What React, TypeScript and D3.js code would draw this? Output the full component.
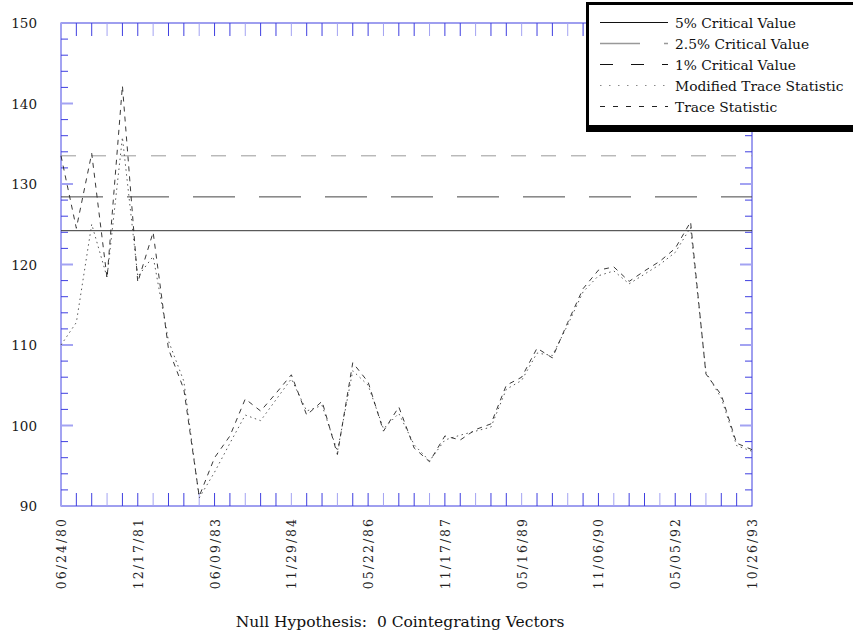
import { useEffect, useRef } from 'react';
import * as d3 from 'd3';

// tick labels on the x axis, one every 5 observations
const dateLabels = ['06/24/80', '12/17/81', '06/09/83', '11/29/84', '05/22/86', '11/17/87', '05/16/89', '11/06/90', '05/05/92', '10/26/93'];

const traceStat = [
  133.5, 124.5, 133.8, 118.3, 142.2, 117.8, 124.0, 109.5, 104.5, 91.2,
  96.0, 98.7, 103.3, 101.8, 104.0, 106.3, 101.3, 103.0, 96.4, 107.8,
  105.4, 99.3, 102.3, 97.2, 95.5, 98.7, 98.2, 99.5, 100.2, 105.0,
  106.0, 109.6, 108.4, 112.8, 117.0, 119.3, 119.7, 117.9, 119.2, 120.4,
  122.0, 125.3, 106.4, 103.8, 97.8, 97.0,
];

const modTraceStat = [
  110.0, 112.8, 125.0, 118.4, 135.8, 118.5, 121.0, 110.5, 105.5, 91.0,
  94.2, 97.8, 101.3, 100.6, 103.2, 105.8, 101.8, 102.5, 96.8, 106.8,
  105.0, 99.6, 101.5, 97.6, 95.6, 98.2, 98.8, 99.3, 99.8, 104.5,
  105.6, 109.0, 108.7, 112.5, 116.6, 118.6, 119.2, 117.6, 118.8, 120.0,
  121.5, 124.6, 106.6, 103.4, 97.5, 96.8,
];

const critNames = ['5% Critical Value', '2.5% Critical Value', '1% Critical Value'];
const critValues = [124.2, 128.4, 133.5];

const yTicks = [90, 100, 110, 120, 130, 140, 150];

// drawing styles, keyed by legend entry
const styles: Record<string, { stroke: string; dash: string; width: number }> = {
  '5% Critical Value': { stroke: '#333', dash: '', width: 1 },
  '2.5% Critical Value': { stroke: '#444', dash: '42,24', width: 1 },
  '1% Critical Value': { stroke: '#9a9a9a', dash: '15,15', width: 1 },
  'Modified Trace Statistic': { stroke: '#444', dash: '1.5,3.5', width: 0.9 },
  'Trace Statistic': { stroke: '#222', dash: '5,5', width: 0.9 },
};
const legendStyles: Record<string, { stroke: string; dash: string }> = {
  '5% Critical Value': { stroke: '#111', dash: '' },
  '2.5% Critical Value': { stroke: '#999', dash: '40,24' },
  '1% Critical Value': { stroke: '#111', dash: '13,18' },
  'Modified Trace Statistic': { stroke: '#888', dash: '1.5,7.5' },
  'Trace Statistic': { stroke: '#222', dash: '5,8' },
};

const FONT = '"DejaVu Serif", serif';
const BLUE = '#3f3fe0';
const LIGHT = '#a3a3f2';

function App() {
  const svgRef = useRef<SVGSVGElement>(null);

  useEffect(() => {
    const svg = d3.select(svgRef.current);
    svg.selectAll('*').remove();

    const left = 61, right = 752, top = 23, bottom = 506;
    const x = d3.scaleLinear().domain([0, traceStat.length - 1]).range([left, right]);
    const y = d3.scaleLinear().domain([90, 150]).range([bottom, top]);

    // frame
    const frame = svg.append('g');
    frame.append('rect')
      .attr('x', left).attr('y', top)
      .attr('width', right - left).attr('height', bottom - top)
      .attr('fill', 'none').attr('stroke', BLUE).attr('stroke-width', 1);
    frame.append('line')
      .attr('x1', left).attr('x2', left).attr('y1', top).attr('y2', bottom)
      .attr('stroke', LIGHT).attr('stroke-width', 2);

    // x ticks on top and bottom, one per observation
    const xt = d3.range(1, traceStat.length - 1);
    frame.selectAll('line.xtb').data(xt).join('line')
      .attr('class', 'xtb')
      .attr('x1', d => x(d)).attr('x2', d => x(d))
      .attr('y1', bottom).attr('y2', bottom - 13)
      .attr('stroke', d => (d % 3 === 0 ? LIGHT : BLUE)).attr('stroke-width', 1);
    frame.selectAll('line.xtt').data(xt).join('line')
      .attr('class', 'xtt')
      .attr('x1', d => x(d)).attr('x2', d => x(d))
      .attr('y1', top).attr('y2', top + 13)
      .attr('stroke', d => (d % 3 === 0 ? LIGHT : BLUE)).attr('stroke-width', 1);

    // y ticks left and right, minor every 2
    const yt = d3.range(92, 150, 2);
    const tlen = (v: number) => (v % 10 === 0 ? 12 : 7);
    frame.selectAll('line.ytl').data(yt).join('line')
      .attr('class', 'ytl')
      .attr('x1', left).attr('x2', d => left + tlen(d))
      .attr('y1', d => y(d)).attr('y2', d => y(d))
      .attr('stroke', d => (d % 10 === 0 ? LIGHT : BLUE))
      .attr('stroke-width', d => (d % 10 === 0 ? 2 : 1));
    frame.selectAll('line.ytr').data(yt).join('line')
      .attr('class', 'ytr')
      .attr('x1', right).attr('x2', d => right - tlen(d))
      .attr('y1', d => y(d)).attr('y2', d => y(d))
      .attr('stroke', d => (d % 10 === 0 ? LIGHT : BLUE))
      .attr('stroke-width', d => (d % 10 === 0 ? 2 : 1));

    // y labels
    svg.selectAll('text.ylab').data(yTicks).join('text')
      .attr('class', 'ylab')
      .attr('x', 37).attr('y', d => y(d) + 5)
      .attr('text-anchor', 'end')
      .attr('font-family', FONT).attr('font-size', 13.5).attr('fill', '#1a1a1a')
      .text(d => d);

    // x labels, rotated
    svg.selectAll('text.xlab').data(dateLabels).join('text')
      .attr('class', 'xlab')
      .attr('transform', (d, i) => `translate(${x(i * 5) + 5},${517}) rotate(-90)`)
      .attr('text-anchor', 'end')
      .attr('font-family', FONT).attr('font-size', 12.5).attr('letter-spacing', 2)
      .attr('fill', '#222')
      .text(d => d);

    // critical value lines
    svg.selectAll('line.crit').data(critValues).join('line')
      .attr('class', 'crit')
      .attr('x1', left).attr('x2', right)
      .attr('y1', d => y(d)).attr('y2', d => y(d))
      .attr('stroke', (d, i) => styles[critNames[i]].stroke)
      .attr('stroke-dasharray', (d, i) => styles[critNames[i]].dash)
      .attr('stroke-width', (d, i) => styles[critNames[i]].width);

    const line = d3.line<number>().x((d, i) => x(i)).y(d => y(d));
    const series: [string, number[]][] = [
      ['Modified Trace Statistic', modTraceStat],
      ['Trace Statistic', traceStat],
    ];
    series.forEach(([name, values]) => {
      svg.append('path').datum(values)
        .attr('d', line).attr('fill', 'none')
        .attr('stroke', styles[name].stroke)
        .attr('stroke-dasharray', styles[name].dash)
        .attr('stroke-width', styles[name].width);
    });

    // legend box with drop shadow
    const legendNames = [...critNames, 'Modified Trace Statistic', 'Trace Statistic'];
    const lg = svg.append('g');
    lg.append('rect').attr('x', 586).attr('y', 2).attr('width', 290).attr('height', 130).attr('fill', '#000');
    lg.append('rect').attr('x', 589).attr('y', 5).attr('width', 290).attr('height', 120).attr('fill', '#fff');
    const rows = lg.selectAll('g.row').data(legendNames).join('g')
      .attr('class', 'row')
      .attr('transform', (d, i) => `translate(0,${22.5 + i * 21})`);
    rows.append('line')
      .attr('x1', 600).attr('x2', 668).attr('y1', 0).attr('y2', 0)
      .attr('stroke', d => legendStyles[d].stroke)
      .attr('stroke-dasharray', d => legendStyles[d].dash)
      .attr('stroke-width', d => (d.startsWith('2.5') ? 1.5 : 1));
    rows.append('text')
      .attr('x', 675).attr('y', 5)
      .attr('font-family', FONT).attr('font-size', 13.8).attr('fill', '#111')
      .text(d => d);

    // caption
    svg.append('text')
      .attr('x', 400).attr('y', 627)
      .attr('text-anchor', 'middle')
      .attr('font-family', FONT).attr('font-size', 15.5).attr('fill', '#111')
      .style('white-space', 'pre')
      .text('Null Hypothesis:  0 Cointegrating Vectors');
  }, []);

  return (
    <svg ref={svgRef} width={853} height={637} style={{ position: 'absolute', left: 0, top: 0, background: '#fff' }} />
  );
}

export default App;
